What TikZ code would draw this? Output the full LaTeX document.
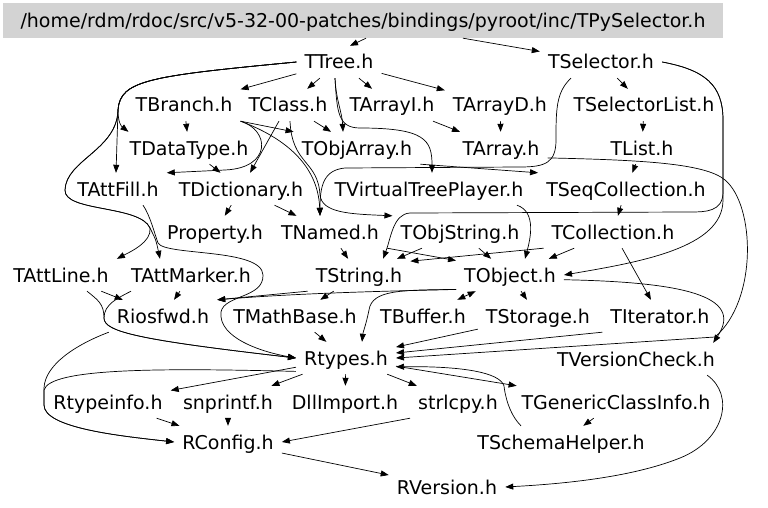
\documentclass[tikz,border=0pt]{standalone}
\usepackage{fontspec}
\setmainfont{DejaVu Sans}
\usetikzlibrary{arrows.meta}

\definecolor{titlegray}{RGB}{211,211,211}

\tikzset{
  hdr/.style={inner xsep=8pt, inner ysep=5pt, text height=18pt, text depth=4pt},
  topfile/.style={fill=titlegray, minimum width=720pt, minimum height=35pt,
                  inner sep=0pt, text height=18pt, text depth=4pt},
  incl/.style={->, line width=0.7pt},
  mutual/.style={<->, line width=0.7pt},
}

\begin{document}
\begin{tikzpicture}[x=1pt, y=-1pt, font=\fontsize{19}{22}\selectfont,
                    >={Triangle[length=8pt,width=6pt]}]
  \useasboundingbox (0,0) rectangle (768,508);

  % ───────── File nodes (text centres, px from top left) ─────────
  \node[topfile] (title) at (363,20.5)
    {/home/rdm/rdoc/src/v5-32-00-patches/bindings/pyroot/inc/TPySelector.h};
  \foreach \n/\x/\y/\t in {
      ttree/339/62/TTree.h, tselector/601/62/TSelector.h,
      tbranch/184/105/TBranch.h, tclass/288/105/TClass.h,
      tarrayi/392/105/TArrayI.h, tarrayd/500/105/TArrayD.h,
      tselectorlist/644/105/TSelectorList.h,
      tdatatype/189/148/TDataType.h, tobjarray/357/148/TObjArray.h,
      tarray/501/148/TArray.h, tlist/642/148/TList.h,
      tattfill/118/189/TAttFill.h, tdictionary/241/189/TDictionary.h,
      tvirtualtreeplayer/429/189/TVirtualTreePlayer.h,
      tseqcollection/626/189/TSeqCollection.h,
      property/215/232/Property.h, tnamed/330/232/TNamed.h,
      tobjstring/460/232/TObjString.h, tcollection/613/232/TCollection.h,
      tattline/61/275/TAttLine.h, tattmarker/191/275/TAttMarker.h,
      tstring/359/275/TString.h, tobject/510/275/TObject.h,
      riosfwd/163/316/Riosfwd.h, tmathbase/295/316/TMathBase.h,
      tbuffer/423/316/TBuffer.h, tstorage/538/316/TStorage.h,
      titerator/660/316/TIterator.h,
      rtypes/346/358/Rtypes.h, tversioncheck/636/359/TVersionCheck.h,
      rtypeinfo/108/402/Rtypeinfo.h, snprintf/228/402/snprintf.h,
      dllimport/345/402/DllImport.h, strlcpy/458/402/strlcpy.h,
      tgenericclassinfo/616/402/TGenericClassInfo.h,
      rconfig/228/442/RConfig.h, tschemahelper/561/442/TSchemaHelper.h,
      rversion/447/487/RVersion.h}
    \node[hdr] (\n) at (\x,\y) {\t};

  % ───────── Short straight includes ─────────
  \foreach \a/\b in {
      ttree/tbranch, ttree/tclass, ttree/tarrayi, ttree/tarrayd,
      tselector/tselectorlist, tbranch/tdatatype,
      tclass/tdictionary, tclass/tobjarray,
      tdatatype/tdictionary, tdictionary/property, tdictionary/tnamed,
      tarrayi/tarray, tarrayd/tarray, tselectorlist/tlist,
      tlist/tseqcollection, tseqcollection/tcollection,
      tcollection/tobject, tcollection/titerator,
      tobjstring/tstring, tobjstring/tobject, tnamed/tstring,
      tstring/tmathbase, tobject/tstorage, tstorage/rtypes,
      tmathbase/rtypes, tattline/riosfwd, tattmarker/riosfwd,
      rtypes/rtypeinfo, rtypes/snprintf, rtypes/dllimport,
      rtypes/strlcpy, rtypes/tgenericclassinfo,
      tgenericclassinfo/tschemahelper, snprintf/rconfig,
      rtypeinfo/rconfig, rconfig/rversion}
    \draw[incl] (\a) -- (\b);

  \draw[incl] ([xshift=3pt]title.south) -- ([xshift=11pt]ttree.north);
  \draw[incl] ([xshift=100pt]title.south) -- (tselector);
  \draw[incl] (tbranch.south east) -- (tobjarray.north west);
  \draw[incl] (tobjarray.south east) -- (tseqcollection.north west);
  \draw[incl] (tcollection.south west) -- (tstring.15);
  \draw[incl] (tnamed.south east) -- (tobject.165);
  \draw[incl] (tstring.south west) -- (riosfwd.north east);
  \draw[incl] (titerator.south west) -- (rtypes);
  \draw[incl] (strlcpy.south west) -- (rconfig.east);
  \draw[mutual] (tobject) -- (tbuffer);

  % ───────── TTree: left-hand bundle ─────────
  \draw[incl] (ttree.west) .. controls (150,76) and (120,80) .. (118,110)
    .. controls (118,122) and (121,126) .. ([xshift=7pt]tdatatype.north west);
  \draw[incl] (ttree.west) .. controls (150,76) and (120,80) .. (118,110)
    -- ([xshift=-2pt]tattfill.north);
  \draw[incl] (ttree.west) .. controls (150,76) and (120,80) .. (118,110)
    .. controls (117,150) and (66,160) .. (65,190)
    .. controls (64,212) and (140,205) .. (150,228)
    .. controls (152,242) and (130,252) .. (tattline.north east);
  \draw[incl] (ttree.west) .. controls (150,76) and (120,80) .. (118,110)
    .. controls (117,150) and (66,160) .. (65,190)
    .. controls (64,212) and (140,205) .. (150,228)
    .. controls (156,240) .. ([xshift=-31pt]tattmarker.north);

  % ───────── TTree: downward ─────────
  \draw[incl] ([xshift=-4pt]ttree.south) .. controls (336,100) and (342,112)
    .. ([xshift=-14pt]tobjarray.north);
  \draw[incl] ([xshift=-4pt]ttree.south) .. controls (337,112) and (338,128)
    .. (360,128) .. controls (425,128) and (432,140)
    .. ([xshift=3pt]tvirtualtreeplayer.north);

  % ───────── TBranch / TClass ─────────
  \draw[incl] (tbranch.south east) .. controls (270,130) and (272,168)
    .. (225,170) -- (tattfill.north east);
  \draw[incl] (tbranch.south east) .. controls (285,138) and (318,165)
    .. ([xshift=-10pt]tnamed.north);
  \draw[incl] ([xshift=2pt]tclass.south) .. controls (292,165) and (318,160)
    .. (320,195) .. controls (322,213) and (350,214) .. (tobjstring.north west);

  % ───────── TSelector ─────────
  \draw[incl] ([xshift=-30pt]tselector.south) .. controls (556,92) and (556,110)
    .. (556,140) .. controls (556,163) and (545,167) .. (520,167) -- (345,168)
    .. controls (324,170) and (320,185) .. ([xshift=-10pt]tnamed.north);
  \draw[incl] (tselector.east) .. controls (705,70) and (723,85) .. (723,120)
    -- (723,200) .. controls (723,248) and (640,262) .. (tobject.east);
  \draw[incl] (tselector.east) .. controls (705,70) and (723,85) .. (723,120)
    -- (723,192) .. controls (723,212) and (705,212) .. (690,212) -- (410,213)
    .. controls (393,214) and (391,238) .. ([xshift=24pt]tstring.north);

  % ───────── Middle rows ─────────
  \draw[incl] ([xshift=88pt]tvirtualtreeplayer.south) .. controls (537,212) and (530,240)
    .. ([xshift=15pt]tobject.north);
  \draw[incl] (tarray.-12) .. controls (640,160) and (705,163) .. (725,180)
    .. controls (755,205) and (758,300) .. (715,337) -- (rtypes.east);
  \draw[incl] (tobject.-5) .. controls (680,282) and (745,295)
    .. ([xshift=-10pt]tversioncheck.north east);
  \draw[incl] (tobject.195) .. controls (390,291) and (300,293) .. (riosfwd.north east);
  \draw[incl] (tobject.195) .. controls (400,290) and (372,290) .. (369,310)
    .. controls (366,325) and (363,332) .. ([xshift=16pt]rtypes.north);

  % ───────── Attribute headers into Rtypes ─────────
  \draw[incl] ([xshift=25pt]tattfill.south) .. controls (150,215) and (155,235) .. (158,243)
    .. controls (165,256) and (262,248) .. (263,275)
    .. controls (264,298) and (224,295) .. (221,312)
    .. controls (218,338) and (262,352) .. (rtypes.west);
  \draw[incl] ([xshift=26pt]tattline.south) .. controls (98,300) and (104,304) .. (104,318)
    .. controls (104,332) and (140,340) .. (rtypes.west);
  \draw[incl] ([xshift=-60pt]tattmarker.south) .. controls (118,298) and (104,304) .. (104,318)
    .. controls (104,332) and (140,340) .. (rtypes.west);

  % ───────── Bottom rows ─────────
  \draw[incl] (riosfwd.south west) .. controls (75,345) and (45,365) .. (44,388)
    -- (44,405) .. controls (44,428) and (120,436) .. (rconfig.west);
  \draw[incl] (rtypes.195) .. controls (160,368) and (50,368) .. (44,390)
    -- (44,405) .. controls (44,428) and (120,436) .. (rconfig.west);
  \draw[incl] ([xshift=-40pt]tschemahelper.north) .. controls (509,414) and (505,395)
    .. (504,386) .. controls (500,372) and (460,366) .. (rtypes.-10);
  \draw[incl] ([xshift=-16pt]tversioncheck.south east) .. controls (735,395) and (725,440)
    .. (680,458) .. controls (630,478) and (560,484) .. (rversion.east);

\end{tikzpicture}
\end{document}
